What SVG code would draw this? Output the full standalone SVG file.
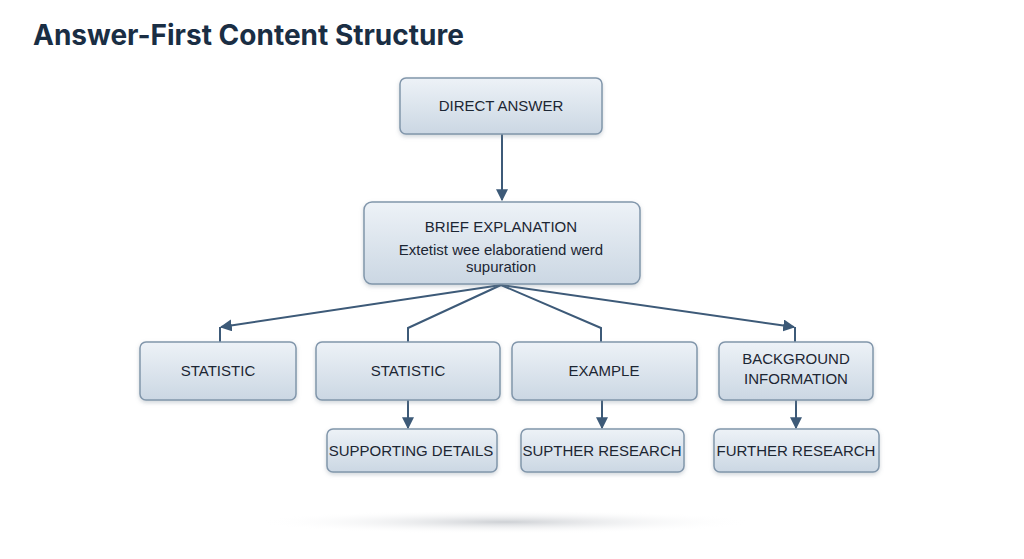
<svg xmlns="http://www.w3.org/2000/svg" width="1024" height="559" viewBox="0 0 1024 559">
<style>
.b{fill:url(#g);stroke:#8196ab;stroke-width:1.5;filter:url(#s)}
.t{font-family:"Liberation Sans",Arial,sans-serif;font-size:15px;fill:#1c2633;text-anchor:middle}
.c{fill:none;stroke:#3d5a78;stroke-width:2}
</style>
<defs>
<linearGradient id="g" x1="0" y1="0" x2="0" y2="1"><stop offset="0" stop-color="#edf2f7"/><stop offset="1" stop-color="#cbd7e3"/></linearGradient>
<radialGradient id="sh"><stop offset="0" stop-color="#b8bcc2" stop-opacity="0.7"/><stop offset="1" stop-color="#fff" stop-opacity="0"/></radialGradient>
<filter id="s" x="-10%" y="-10%" width="120%" height="130%"><feDropShadow dx="0" dy="2" stdDeviation="2" flood-color="#7a8796" flood-opacity="0.35"/></filter>
<marker id="a" viewBox="0 0 10 10" refX="9" refY="5" markerWidth="6" markerHeight="6" orient="auto"><path d="M0,0L10,5L0,10z" fill="#3d5a78"/></marker>
</defs>
<rect width="1024" height="559" fill="#fff"/>
<ellipse cx="505" cy="522" rx="250" ry="12" fill="url(#sh)"/>
<text x="33" y="45" font-family="Inter,'Liberation Sans',sans-serif" font-size="28" font-weight="bold" fill="#1a2e44">Answer-First Content Structure</text>
<g id="connectors">
<path class="c" d="M502,134V200" marker-end="url(#a)"/>
<path class="c" d="M220,342V327" />
<path class="c" d="M501,285L221,327" marker-end="url(#a)"/>
<path class="c" d="M501,285L408,328V342"/>
<path class="c" d="M501,285L601,328V342"/>
<path class="c" d="M501,285L794,327" marker-end="url(#a)"/>
<path class="c" d="M795,327V342"/>
<path class="c" d="M408,400V428" marker-end="url(#a)"/>
<path class="c" d="M602,400V428" marker-end="url(#a)"/>
<path class="c" d="M796,400V428" marker-end="url(#a)"/>
</g>
<g id="direct"><rect class="b" x="400" y="78" width="202" height="56" rx="6"/><text class="t" x="501" y="111">DIRECT ANSWER</text></g>
<g id="brief"><rect class="b" x="364" y="202" width="276" height="82" rx="8"/><text class="t" x="501" y="232">BRIEF EXPLANATION</text><text class="t" x="501" y="255">Extetist wee elaboratiend werd</text><text class="t" x="501" y="272">supuration</text></g>
<g id="stat1"><rect class="b" x="140" y="342" width="156" height="58" rx="6"/><text class="t" x="218" y="376">STATISTIC</text></g>
<g id="stat2"><rect class="b" x="316" y="342" width="184" height="58" rx="6"/><text class="t" x="408" y="376">STATISTIC</text></g>
<g id="example"><rect class="b" x="512" y="342" width="185" height="58" rx="6"/><text class="t" x="604" y="376">EXAMPLE</text></g>
<g id="background"><rect class="b" x="719" y="342" width="154" height="58" rx="6"/><text class="t" x="796" y="364">BACKGROUND</text><text class="t" x="796" y="384">INFORMATION</text></g>
<g id="supporting"><rect class="b" x="327" y="429" width="170" height="43" rx="6"/><text class="t" x="411" y="456">SUPPORTING DETAILS</text></g>
<g id="suptner"><rect class="b" x="521" y="429" width="163" height="43" rx="6"/><text class="t" x="602" y="456">SUPTHER RESEARCH</text></g>
<g id="further"><rect class="b" x="714" y="429" width="165" height="43" rx="6"/><text class="t" x="796" y="456">FURTHER RESEARCH</text></g>
</svg>
